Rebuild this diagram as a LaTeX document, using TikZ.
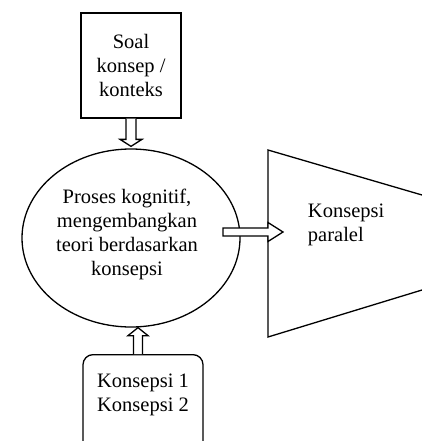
\documentclass[tikz,border=0pt]{standalone}
\usepackage{fontspec}
\setmainfont{Liberation Serif}
\usetikzlibrary{shapes.geometric,calc}
\begin{document}
\begin{tikzpicture}[x=1pt,y=-1pt,
  line width=1.3pt,
  txt/.style={font=\fontsize{20.5}{24}\selectfont, align=center},
  sqbox/.style={draw, rectangle, inner sep=0pt, txt},
  roundbox/.style={draw, rectangle, rounded corners=10pt, inner sep=0pt},
  oval/.style={draw, ellipse, inner sep=0pt, txt},
  blk/.style={draw, fill=white, line join=miter}]
\useasboundingbox (0,0) rectangle (422,441);
\clip (0,0) rectangle (422,441);
% trapezoid (parallel conceptions)
\coordinate (tl) at (268,150);
\coordinate (bl) at (268,337);
\coordinate (tr) at (422,195);
\coordinate (br) at (422,290);
\draw (tr) -- (tl) -- (bl) -- (br);
\node[txt, align=left, anchor=west] (par) at (304,224.5) {Konsepsi\\paralel};
% nodes
\node[sqbox, minimum width=100pt, minimum height=105pt] (top) at (131,65.5) {Soal\\konsep /\\konteks};
\node[oval, minimum width=218pt, minimum height=178pt] (ell) at (131,238) {};
\node[txt] (elltxt) at (127,234) {Proses kognitif,\\mengembangkan\\teori berdasarkan\\konsepsi};
\node[roundbox, minimum width=120pt, minimum height=130pt, anchor=north] (bot) at (143,354) {};
\node[txt] (bottxt) at (143,395) {Konsepsi 1\\Konsepsi 2};
% down block arrow: top -> ellipse
\coordinate (dtip) at (top.south |- ell.north);
\draw[blk] ($(top.south)+(-5,0)$) -- ($(dtip)+(-5,-9)$) -- ($(dtip)+(-11,-9)$) -- ($(dtip)+(0,-2)$)
  -- ($(dtip)+(11,-9)$) -- ($(dtip)+(5,-9)$) -- ($(top.south)+(5,0)$);
% up block arrow: bottom box -> ellipse
\coordinate (ufoot) at (138,354);
\coordinate (utip) at (ufoot |- ell.south);
\draw[blk] ($(ufoot)+(-4.5,0)$) -- ($(utip)+(-4.5,8)$) -- ($(utip)+(-10,8)$) -- (utip)
  -- ($(utip)+(10,8)$) -- ($(utip)+(4.5,8)$) -- ($(ufoot)+(4.5,0)$);
% right block arrow: ellipse -> trapezoid
\coordinate (rfoot) at (223,232);
\coordinate (rbase) at (rfoot -| tl);
\coordinate (rtip) at ($(rbase)+(15,0)$);
\draw[blk] ($(rfoot)+(0,-4)$) -- ($(rbase)+(0,-4)$) -- ($(rbase)+(0,-9.5)$) -- (rtip)
  -- ($(rbase)+(0,9.5)$) -- ($(rbase)+(0,4)$) -- ($(rfoot)+(0,4)$) -- cycle;
\end{tikzpicture}
\end{document}
